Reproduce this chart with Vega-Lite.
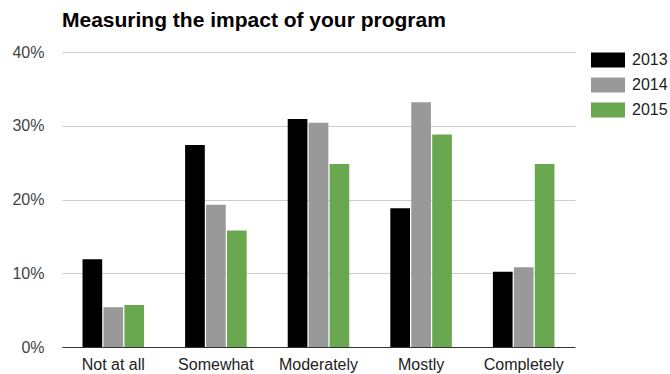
{
  "$schema": "https://vega.github.io/schema/vega-lite/v6.json",
  "width": 513,
  "height": 295,
  "autosize": {"type": "none"},
  "padding": {"left": 62, "top": 52, "right": 95, "bottom": 27},
  "background": "white",
  "title": {
    "text": "Measuring the impact of your program",
    "anchor": "start",
    "frame": "group",
    "font": "Liberation Sans",
    "fontSize": 21,
    "fontWeight": "bold",
    "color": "#000000",
    "baseline": "alphabetic",
    "offset": -4
  },
  "data": {
    "values": [
      {"category": "Not at all", "year": "2013", "value": 11.9},
      {"category": "Not at all", "year": "2014", "value": 5.4},
      {"category": "Not at all", "year": "2015", "value": 5.7},
      {"category": "Somewhat", "year": "2013", "value": 27.4},
      {"category": "Somewhat", "year": "2014", "value": 19.3},
      {"category": "Somewhat", "year": "2015", "value": 15.8},
      {"category": "Moderately", "year": "2013", "value": 30.9},
      {"category": "Moderately", "year": "2014", "value": 30.4},
      {"category": "Moderately", "year": "2015", "value": 24.8},
      {"category": "Mostly", "year": "2013", "value": 18.8},
      {"category": "Mostly", "year": "2014", "value": 33.2},
      {"category": "Mostly", "year": "2015", "value": 28.8},
      {"category": "Completely", "year": "2013", "value": 10.2},
      {"category": "Completely", "year": "2014", "value": 10.8},
      {"category": "Completely", "year": "2015", "value": 24.8}
    ]
  },
  "mark": {"type": "bar"},
  "encoding": {
    "x": {
      "field": "category",
      "type": "nominal",
      "sort": ["Not at all", "Somewhat", "Moderately", "Mostly", "Completely"],
      "scale": {"paddingInner": 0.4, "paddingOuter": 0.2},
      "axis": {
        "title": null,
        "labelAngle": 0,
        "ticks": false,
        "domain": true,
        "domainColor": "#333333",
        "domainWidth": 1,
        "labelFont": "Liberation Sans",
        "labelFontSize": 16,
        "labelColor": "#222222",
        "labelPadding": 9,
        "grid": false
      }
    },
    "xOffset": {
      "field": "year",
      "type": "nominal",
      "scale": {"paddingInner": 0.06, "paddingOuter": 0}
    },
    "y": {
      "field": "value",
      "type": "quantitative",
      "scale": {"domain": [0, 40], "nice": false},
      "axis": {
        "title": null,
        "values": [0, 10, 20, 30, 40],
        "labelExpr": "datum.value + '%'",
        "ticks": false,
        "domain": false,
        "grid": true,
        "gridColor": "#cccccc",
        "gridWidth": 1,
        "labelFont": "Liberation Sans",
        "labelFontSize": 16,
        "labelColor": "#444444",
        "labelPadding": 18
      }
    },
    "color": {
      "field": "year",
      "type": "nominal",
      "scale": {"domain": ["2013", "2014", "2015"], "range": ["#000000", "#999999", "#6aa84f"]},
      "legend": {
        "title": null,
        "orient": "none",
        "legendX": 538,
        "legendY": 0,
        "padding": 0,
        "symbolType": "M-2.267,-1L2.267,-1L2.267,1L-2.267,1Z",
        "symbolSize": 225,
        "symbolStrokeWidth": 0,
        "symbolOpacity": 1,
        "labelFont": "Liberation Sans",
        "labelFontSize": 16,
        "labelColor": "#222222",
        "labelOffset": 16,
        "rowPadding": 9
      }
    }
  },
  "config": {
    "view": {"stroke": null},
    "axis": {"labelFont": "Liberation Sans"}
  }
}
